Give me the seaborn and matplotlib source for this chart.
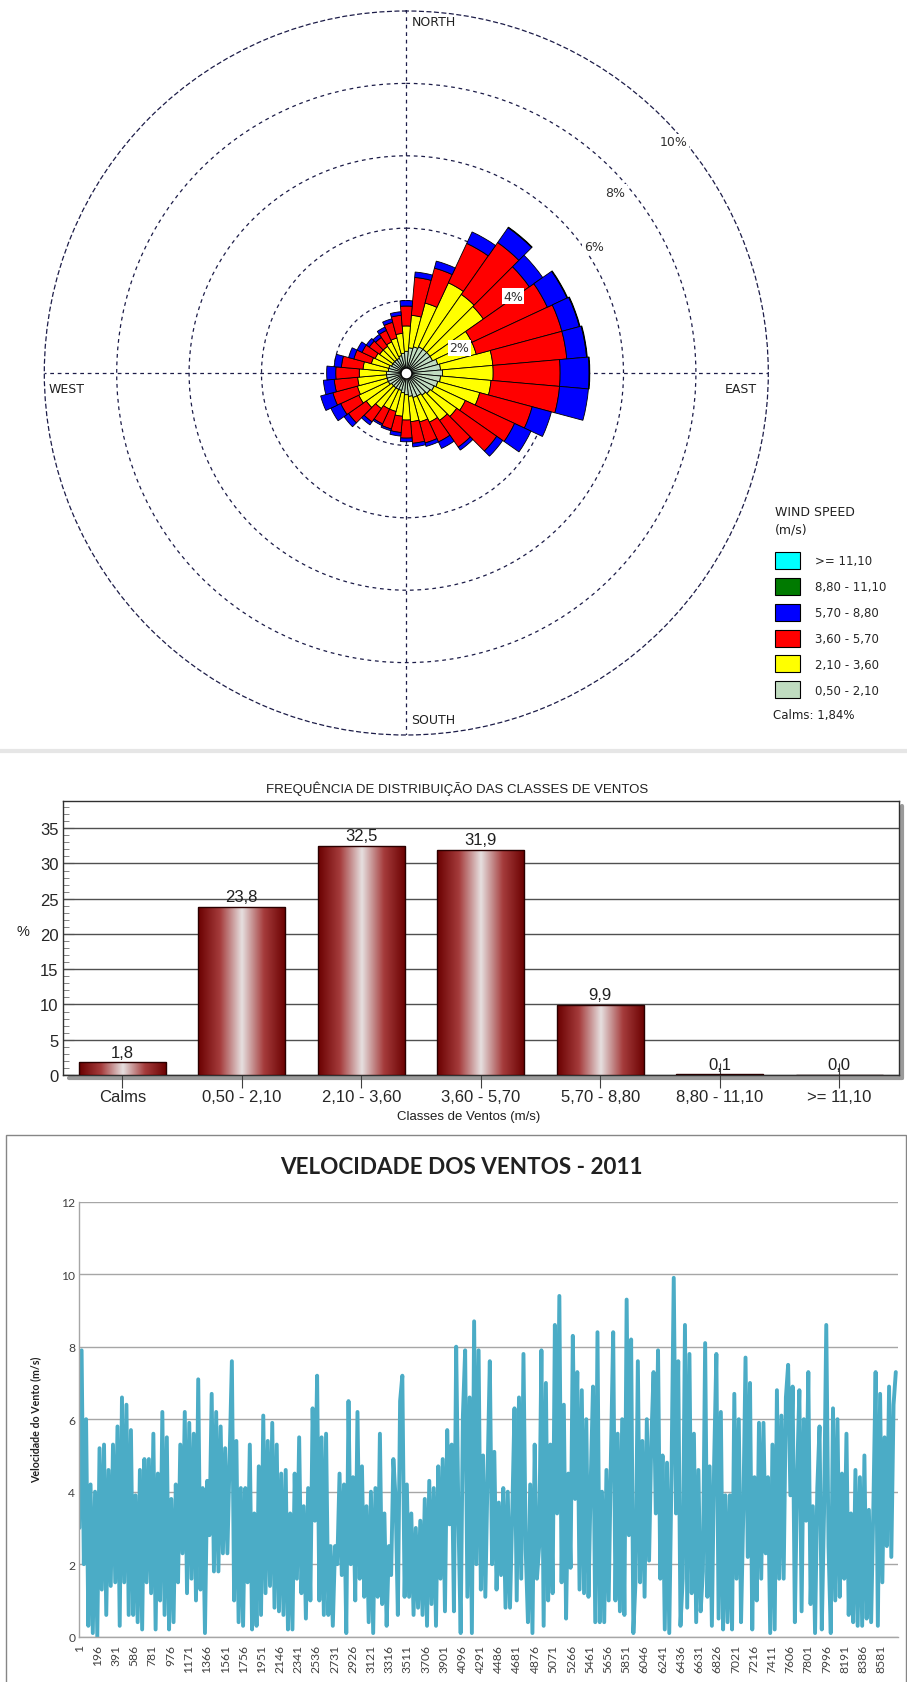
import numpy as np
import matplotlib
matplotlib.use("Agg")
import matplotlib.pyplot as plt
import matplotlib.transforms as mtransforms
from matplotlib.colors import LinearSegmentedColormap
from matplotlib.lines import Line2D
from matplotlib.patches import Patch, Rectangle
import seaborn as sns

# ---------------------------------------------------------------- data
# Wind rose: 36 sectors of 10 degrees, frequency (%) of each speed class
sector_deg = [10, 20, 30, 40, 50, 60, 70, 80, 90, 100, 110, 120,
              130, 140, 150, 160, 170, 180, 190, 200, 210, 220, 230, 240,
              250, 260, 270, 280, 290, 300, 310, 320, 330, 340, 350, 360]
rose_050_210 = [.70, .75, .80, .80, .80, .80, .90, .95, 1.00, .95, .90, .85,
                .80, .75, .70, .70, .65, .60, .55, .50, .50, .50, .50, .55,
                .55, .55, .55, .50, .50, .45, .45, .45, .45, .50, .55, .60]
rose_210_360 = [.90, 1.25, 1.95, 1.85, 1.80, 1.20, 1.10, 1.45, 1.40, 1.40, 1.20, .95,
                .90, .85, .80, .70, .70, .70, .65, .60, .60, .70, .85, .90,
                .85, .80, .75, .70, .50, .50, .45, .45, .50, .50, .55, .70]
rose_360_570 = [1.05, 1.00, 1.20, 1.75, 1.55, 2.30, 2.45, 2.05, 1.85, 1.90, 1.50, 1.50,
                1.35, .90, .60, .60, .60, .50, .45, .50, .45, .45, .60, .55,
                .70, .65, .65, .60, .50, .40, .35, .30, .35, .45, .50, .55]
rose_570_880 = [.15, .20, .35, .50, .45, .60, .50, .55, .80, .80, .55, .50,
                .20, .10, .20, .10, .10, .10, .10, .05, .05, .10, .15, .30,
                .35, .30, .25, .20, .15, .15, .10, .10, .10, .10, .10, .15]
rose_880_1110 = [0, 0, 0, .02, 0, .02, .02, .02, .02, 0, 0, 0,
                 0, 0, 0, 0, 0, 0, 0, 0, 0, 0, 0, 0,
                 0, 0, 0, 0, 0, 0, 0, 0, 0, 0, 0, 0]
rose_above_1110 = [0, 0, 0, 0, 0, 0, 0, 0, 0, 0, 0, 0,
                   0, 0, 0, 0, 0, 0, 0, 0, 0, 0, 0, 0,
                   0, 0, 0, 0, 0, 0, 0, 0, 0, 0, 0, 0]
calm_pct = 1.84
speed_labels = ["0,50 - 2,10", "2,10 - 3,60", "3,60 - 5,70",
                "5,70 - 8,80", "8,80 - 11,10", ">= 11,10"]
speed_colors = ["#c0dcc0", "#ffff00", "#ff0000", "#0000ff", "#007a00", "#00ffff"]
ring_labels = ["2%", "4%", "6%", "8%", "10%"]

# Frequency of the wind classes (%)
wind_classes = ["Calms", "0,50 - 2,10", "2,10 - 3,60", "3,60 - 5,70",
                "5,70 - 8,80", "8,80 - 11,10", ">= 11,10"]
class_freq = [1.8, 23.8, 32.5, 31.9, 9.9, 0.1, 0.0]

# Wind speed (m/s), one reading per day of 2011 (hour index of the series)
speed = [
    3.0, 7.9, 2.0, 6.0, 0.3, 4.2, 0.1, 4.0, 0.0, 5.2,
    1.3, 5.3, 0.6, 4.6, 1.4, 5.3, 1.5, 5.8, 0.3, 6.6,
    1.5, 6.4, 0.6, 5.7, 0.6, 3.9, 0.4, 4.6, 0.2, 4.9,
    1.5, 4.9, 1.2, 5.6, 0.2, 4.5, 1.0, 6.2, 0.6, 5.5,
    0.2, 3.8, 0.4, 4.2, 1.5, 5.3, 2.3, 6.2, 1.2, 5.9,
    1.6, 5.6, 1.0, 7.1, 1.3, 4.1, 0.1, 4.3, 2.8, 6.7,
    1.8, 6.2, 1.8, 5.8, 2.3, 5.2, 2.3, 5.0, 7.6, 1.0,
    5.4, 0.4, 4.1, 0.3, 4.1, 1.5, 5.3, 0.2, 3.4, 0.3,
    4.7, 0.6, 6.1, 1.2, 5.4, 1.4, 5.9, 0.8, 5.3, 0.7,
    4.5, 0.6,
    4.6, 0.2, 3.4, 0.2, 4.5, 1.6, 5.5, 1.2, 3.6, 0.5,
    4.1, 1.0, 6.3, 3.2, 7.2, 1.0, 5.5, 0.6, 5.6, 0.6,
    2.5, 0.3, 2.5, 2.0, 4.5, 1.7, 4.2, 0.1, 6.5, 2.0,
    4.4, 1.0, 6.2, 1.6, 4.7, 1.1, 3.6, 0.4, 4.0, 0.1,
    4.1, 1.1, 5.6, 0.9, 3.4, 0.3, 2.5, 1.7, 4.9, 3.8,
    0.6, 6.5, 7.2, 1.1, 4.2, 1.1, 3.4, 0.6, 3.0, 0.8,
    3.2, 0.6, 3.8, 0.3, 4.3, 0.9, 4.1, 0.3, 4.7, 1.6,
    4.9, 0.7, 5.7, 3.1, 5.3, 0.7, 8.0, 3.3, 0.1, 6.1,
    7.9, 1.1, 6.6, 0.1, 8.7, 2.0, 7.9, 1.3, 5.0, 1.1,
    4.5, 7.6, 2.0,
    5.1, 1.3, 3.7, 1.7, 4.1, 0.8, 4.0, 0.8, 3.4, 6.3,
    1.0, 6.6, 1.6, 7.8, 2.4, 0.4, 4.2, 0.1, 5.3, 1.6,
    2.5, 7.9, 0.3, 7.0, 1.0, 5.3, 1.2, 8.6, 3.4, 9.4,
    1.5, 6.4, 0.5, 4.5, 1.9, 8.3, 3.8, 7.3, 1.3, 6.8,
    1.2, 6.0, 1.1, 4.3, 6.9, 0.4, 8.4, 0.4, 4.0, 0.4,
    4.6, 1.0, 5.0, 8.4, 1.0, 5.6, 0.7, 6.0, 0.6, 9.3,
    2.8, 8.2, 0.1, 1.6, 7.6, 1.5, 5.4, 1.1, 6.0, 2.1,
    5.4, 7.3, 3.4, 7.9, 1.6, 5.0, 0.2, 4.8, 0.1, 4.5,
    9.9, 3.4, 7.6, 0.3, 1.6, 8.6, 0.8, 7.8, 1.2,
    5.6, 0.4, 4.6, 0.7, 1.8, 8.1, 1.1, 4.7, 0.3, 4.8,
    7.8, 0.5, 6.2, 0.2, 3.9, 0.4, 3.9, 0.2, 6.7, 1.6,
    6.0, 0.4, 3.4, 7.7, 2.2, 7.0, 0.2, 4.4, 1.0, 5.9,
    1.6, 5.9, 2.3, 4.4, 0.1, 5.3, 0.2, 6.8, 1.6, 6.1,
    1.6, 6.6, 7.5, 3.9, 6.9, 0.4, 4.4, 6.8, 0.7, 6.0,
    3.2, 7.3, 0.9, 3.6, 0.1, 4.1, 5.8, 0.2, 3.4, 8.6,
    2.5, 0.1, 6.3, 1.0, 6.0, 1.1, 4.5, 1.6, 5.6, 0.6,
    3.4, 0.4, 4.6, 0.3, 4.4, 0.3, 5.0, 0.5, 3.5, 0.4,
    3.6, 7.3, 0.3, 6.7, 1.5, 5.5, 2.5, 6.9, 2.2, 6.4,
    7.3,
]
hours = 1 + 24 * np.arange(len(speed))
hour_ticks = np.arange(1, 8761, 195)

# ---------------------------------------------------------------- style
sns.set_theme(style="white")
plt.rcParams["font.family"] = ["Liberation Sans", "DejaVu Sans"]

W, H = 907, 1683
fig = plt.figure(figsize=(W / 100, H / 100), dpi=100)
fig.patch.set_facecolor("white")


def fx(px):
    return px / W


def fy(px):
    return 1 - px / H


# ---------------------------------------------------------------- wind rose
cx, cy, rad = 406.3, 374.0, 362.0
ax1 = fig.add_axes([fx(cx - rad), fy(cy + rad), 2 * rad / W, 2 * rad / H],
                   projection="polar")
ax1.set_theta_zero_location("N")
ax1.set_theta_direction(-1)
ax1.set_ylim(0, 10)
ring_style = dict(color="#1c1c48", linewidth=0.9, linestyle=(0, (3, 3)))
ax1.set_rgrids([2, 4, 6, 8], labels=[""] * 4)
ax1.set_thetagrids([0, 90, 180, 270], labels=[""] * 4)
ax1.grid(True, **ring_style)
ax1.spines["polar"].set_linestyle((0, (3, 3)))
ax1.spines["polar"].set_color("#1c1c48")
ax1.spines["polar"].set_linewidth(0.9)
ax1.set_axisbelow(True)

theta = np.deg2rad(sector_deg)
bottom = np.zeros(len(sector_deg))
rose_classes = [rose_050_210, rose_210_360, rose_360_570,
                rose_570_880, rose_880_1110, rose_above_1110]
for vals, col in zip(rose_classes, speed_colors):
    v = np.asarray(vals, dtype=float)
    m = v > 0
    if m.any():
        ax1.bar(theta[m], v[m], width=np.deg2rad(10), bottom=bottom[m],
                color=col, edgecolor="black", linewidth=0.6, zorder=3)
    bottom += v
ax1.scatter([0], [0], s=60, c="white", edgecolors="black", linewidths=0.8, zorder=5)

rose_font = ["DejaVu Sans"]
ring_pos = [(64.7, 1.62), (54.3, 3.63), (55.9, 6.25), (49.1, 7.63), (49.2, 9.77)]
for lab, (ang, r) in zip(ring_labels, ring_pos):
    ax1.text(np.deg2rad(ang), r, lab, ha="center", va="center", fontsize=9,
             family=rose_font, color="#303030", zorder=6,
             bbox=dict(boxstyle="square,pad=0.12", fc="white", ec="none"))

dir_kw = dict(transform=ax1.transAxes, fontsize=9, family=rose_font, color="#202020")
ax1.text(0.507, 0.985, "NORTH", ha="left", va="center", **dir_kw)
ax1.text(0.507, 0.021, "SOUTH", ha="left", va="center", **dir_kw)
ax1.text(0.006, 0.478, "WEST", ha="left", va="center", **dir_kw)
ax1.text(0.940, 0.478, "EAST", ha="left", va="center", **dir_kw)

# legend of the speed classes
leg_kw = dict(ha="left", va="center", family=rose_font, color="#202020")
fig.text(fx(775), fy(513), "WIND SPEED", fontsize=9, **leg_kw)
fig.text(fx(775), fy(530), "(m/s)", fontsize=9, **leg_kw)
handles = [Patch(facecolor=c, edgecolor="black", linewidth=0.8) for c in speed_colors][::-1]
fig.legend(handles, speed_labels[::-1], loc="upper left",
           bbox_to_anchor=(fx(775), fy(553)), frameon=False,
           prop={"family": rose_font, "size": 8.5},
           handlelength=2.1, handleheight=1.84, labelspacing=0.75,
           handletextpad=1.25, borderpad=0, borderaxespad=0)
fig.text(fx(773), fy(716), f"Calms: {calm_pct:.2f}%".replace(".", ","),
         fontsize=8.5, **leg_kw)

# thin separator under the rose
fig.add_artist(Line2D([0, 1], [fy(752), fy(752)], transform=fig.transFigure,
                      color="#e6e6e6", linewidth=3))

# ---------------------------------------------------------------- class frequency
ax2 = fig.add_axes([fx(62.5), fy(1076), 836.5 / W, 274.3 / H])
sns.barplot(x=wind_classes, y=class_freq, order=wind_classes, color="#7a0000",
            saturation=1, width=0.73, ax=ax2, zorder=3)
cyl = LinearSegmentedColormap.from_list(
    "cyl", ["#6a0000", "#a53c3c", "#e6e0e0", "#a53c3c", "#6a0000"])
ramp = np.linspace(0, 1, 256)[None, :]
for bar in ax2.containers[0]:
    h = bar.get_height()
    if h > 0:
        x0, w = bar.get_x(), bar.get_width()
        im = ax2.imshow(ramp, extent=(x0, x0 + w, 0, h), aspect="auto", cmap=cyl,
                        interpolation="bilinear", zorder=3.1)
        im.set_clip_path(bar)
    bar.set_facecolor("none")
    bar.set_edgecolor("#2a0000")
    bar.set_linewidth(1.0)
    bar.set_zorder(3.2)
ax2.bar_label(ax2.containers[0],
              labels=[f"{v:.1f}".replace(".", ",") for v in class_freq],
              padding=2, fontsize=12, color="#202020")
ax2.set_xlim(-0.5, 6.5)
ax2.set_ylim(0, 38.9)
ax2.set_yticks(range(0, 36, 5))
ax2.set_yticks(range(0, 39), minor=True)
ax2.yaxis.grid(True, which="major", color="#505050", linewidth=1)
ax2.set_axisbelow(True)
ax2.tick_params(axis="y", which="major", direction="in", length=8, width=0.8,
                color="#505050", labelsize=12, pad=3, left=True)
ax2.tick_params(axis="y", which="minor", direction="in", length=4, width=0.6,
                color="#707070", left=True)
ax2.tick_params(axis="x", direction="inout", length=18, width=0.8, color="#404040",
                labelsize=12, pad=1, bottom=True)
for s in ax2.spines.values():
    s.set_color("#303030")
    s.set_linewidth(1)
shadow = mtransforms.offset_copy(ax2.transAxes, fig=fig, x=3, y=-3, units="dots")
for xs, ys in (([0.004, 1], [0, 0]), ([1, 1], [0, 0.99])):
    fig.add_artist(Line2D(xs, ys, transform=shadow, color="#9a9a9a",
                          linewidth=3, zorder=0))
ax2.set_xlabel("Classes de Ventos (m/s)", fontsize=9.5, color="#202020")
ax2.xaxis.set_label_coords(0.485, -0.128)
ax2.set_ylabel("%", rotation=0, fontsize=10.5, color="#202020")
ax2.yaxis.set_label_coords(-0.047, 0.5)
fig.text(fx(457), fy(789), "FREQUÊNCIA DE DISTRIBUIÇÃO DAS CLASSES DE VENTOS",
         ha="center", va="center", fontsize=9.5, color="#202020")

# ---------------------------------------------------------------- speed series
fig.add_artist(Rectangle((fx(5.5), fy(1692)), (906 - 5.5) / W, (1692 - 1136) / H,
                         transform=fig.transFigure, fill=False,
                         edgecolor="#868686", linewidth=1))
ax3 = fig.add_axes([fx(79.3), fy(1637.7), 818.7 / W, 435 / H])
sns.lineplot(x=hours, y=speed, color="#4bacc6", linewidth=2.8, ax=ax3)
ax3.set_xlim(0.5, 8760.5)
ax3.set_ylim(0, 12)
ax3.set_yticks(range(0, 13, 2))
ax3.set_xticks(hour_ticks)
ax3.set_xticklabels([str(t) for t in hour_ticks], rotation=90, family="Lato",
                    fontsize=8.7, color="#404040")
ax3.set_yticklabels([str(t) for t in range(0, 13, 2)], family="Lato",
                    fontsize=8.7, color="#404040")
ax3.yaxis.grid(True, color="#a6a6a6", linewidth=1)
ax3.set_axisbelow(True)
ax3.tick_params(axis="x", length=0, pad=5)
ax3.tick_params(axis="y", length=0, pad=3)
for side in ("top", "right"):
    ax3.spines[side].set_visible(False)
for side in ("left", "bottom"):
    ax3.spines[side].set_color("#a6a6a6")
    ax3.spines[side].set_linewidth(1)
ax3.set_xlabel("")
ax3.set_ylabel("Velocidade do Vento (m/s)", family="Lato", fontweight="bold",
               fontsize=7.7, color="#202020")
ax3.yaxis.set_label_coords(-0.047, 0.5)
fig.text(fx(461.5), fy(1168), "VELOCIDADE DOS VENTOS - 2011", ha="center",
         va="center", family="Lato", fontweight="bold", fontsize=16.2, color="#202020")

fig.savefig("out.png", dpi=100, facecolor="white")
